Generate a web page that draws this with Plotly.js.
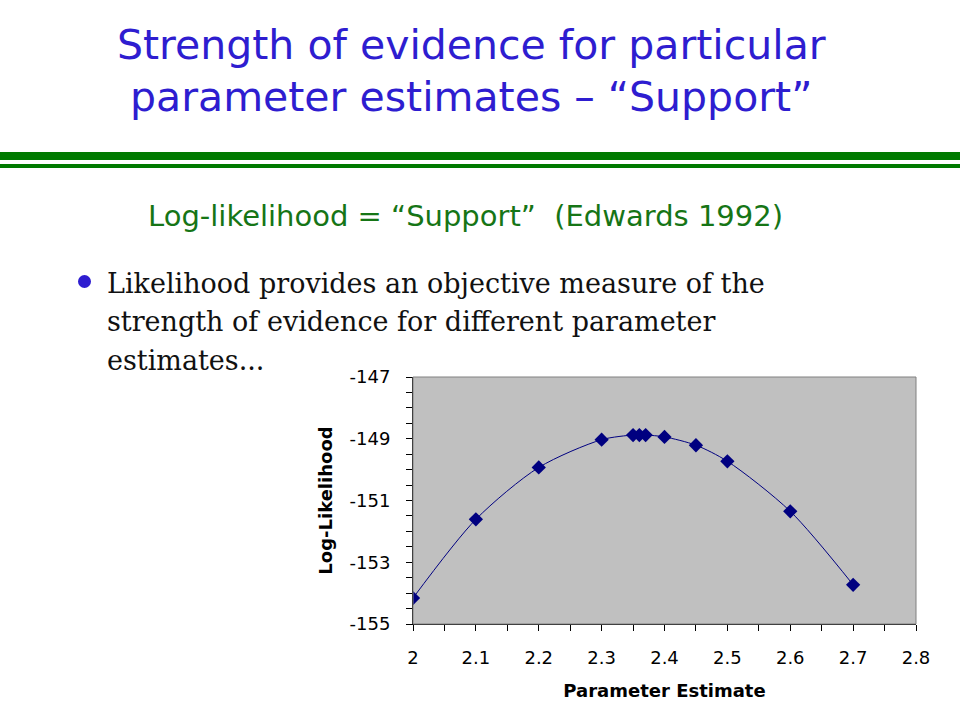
<!DOCTYPE html>
<html>
<head>
<meta charset="utf-8">
<script src="https://cdn.plot.ly/plotly-3.0.1.min.js"></script>
<style>html,body{margin:0;padding:0;background:#fff;}#chart{width:960px;height:720px;}</style>
</head>
<body>
<div id="chart"></div>
<script>
// Data
const paramEstimate = [2.0, 2.1, 2.2, 2.3, 2.35, 2.36, 2.37, 2.4, 2.45, 2.5, 2.6, 2.7];
const logLikelihood = [-154.16, -151.61, -149.93, -149.03, -148.88, -148.88, -148.88, -148.94, -149.21, -149.73, -151.35, -153.73];
const xTickVals = [2, 2.1, 2.2, 2.3, 2.4, 2.5, 2.6, 2.7, 2.8];
const xTickLabels = ["2", "2.1", "2.2", "2.3", "2.4", "2.5", "2.6", "2.7", "2.8"];
const yTickVals = [-147, -149, -151, -153, -155];
const yTickLabels = ["-147", "-149", "-151", "-153", "-155"];
const titleLines = ["Strength of evidence for particular", "parameter estimates \u2013 \u201cSupport\u201d"];
const subtitle = "Log-likelihood = \u201cSupport\u201d  (Edwards 1992)";
const bulletLines = ["Likelihood provides an objective measure of the", "strength of evidence for different parameter", "estimates..."];

const W = 960, H = 720;
const ML = 413, MR = 44, MT = 377, MB = 96;
const PW = W - ML - MR, PH = H - MT - MB;
// convert page pixels to paper coordinates (paper = plot area)
const px = v => (v - ML) / PW, py = v => (H - MB - v) / PH;

const trace = {
  x: paramEstimate, y: logLikelihood,
  type: 'scatter', mode: 'lines+markers',
  line: {color: '#000080', width: 1, shape: 'spline', smoothing: 0.8},
  marker: {symbol: 'diamond', size: 11, color: '#000080'},
  hoverinfo: 'skip'
};

const tickFont = {family: 'DejaVu Sans, sans-serif', size: 18, color: '#000'};
const axisTitleFont = {family: 'DejaVu Sans, sans-serif', size: 18, color: '#000', weight: 'bold'};
const titleFont = {family: 'DejaVu Sans, sans-serif', size: 41, color: '#2E1DD0'};

const annotations = [];
titleLines.forEach((t, i) => annotations.push({
  xref: 'paper', yref: 'paper', x: px(471), y: py(45 + i * 52), xanchor: 'center', yanchor: 'middle',
  text: t, showarrow: false, font: titleFont
}));
annotations.push({
  xref: 'paper', yref: 'paper', x: px(465), y: py(216), xanchor: 'center', yanchor: 'middle',
  text: subtitle, showarrow: false, font: {family: 'DejaVu Sans, sans-serif', size: 29, color: '#167516'}
});
bulletLines.forEach((t, i) => annotations.push({
  xref: 'paper', yref: 'paper', x: px(105), y: py(283 + i * 38.5), xanchor: 'left', yanchor: 'middle',
  text: t, showarrow: false, font: {family: 'DejaVu Serif, serif', size: 27, color: '#111'}
}));

const shapes = [
  {type: 'rect', xref: 'paper', yref: 'paper', x0: px(0), x1: px(W), y0: py(160), y1: py(152), fillcolor: '#007A00', line: {width: 0}},
  {type: 'rect', xref: 'paper', yref: 'paper', x0: px(0), x1: px(W), y0: py(168), y1: py(164), fillcolor: '#007A00', line: {width: 0}},
  {type: 'circle', xref: 'paper', yref: 'paper', x0: px(78), x1: px(91), y0: py(288), y1: py(275), fillcolor: '#2E1DD0', line: {width: 0}},
  {type: 'rect', xref: 'x domain', yref: 'y domain', x0: 0, x1: 1, y0: 0, y1: 1, line: {color: '#808080', width: 1}, layer: 'above'}
];

const layout = {
  width: W, height: H,
  margin: {l: ML, r: MR, t: MT, b: MB, pad: 0},
  paper_bgcolor: '#fff', plot_bgcolor: '#C0C0C0',
  showlegend: false,
  xaxis: {
    range: [2, 2.8], tickvals: xTickVals, ticktext: xTickLabels,
    ticks: 'outside', ticklen: 6, tickcolor: '#000', tickwidth: 1,
    minor: {dtick: 0.05, tick0: 2, ticks: 'outside', ticklen: 6, tickcolor: '#000'},
    showgrid: false, zeroline: false, showline: true, linecolor: '#000', linewidth: 1,
    tickfont: tickFont, ticklabelstandoff: 11,
    title: {text: 'Parameter Estimate', font: axisTitleFont, standoff: 17}
  },
  yaxis: {
    range: [-155, -147], tickvals: yTickVals, ticktext: yTickLabels,
    ticks: 'outside', ticklen: 6, tickcolor: '#000', tickwidth: 1,
    minor: {dtick: 0.5, tick0: -155, ticks: 'outside', ticklen: 6, tickcolor: '#000'},
    showgrid: false, zeroline: false, showline: true, linecolor: '#000', linewidth: 1,
    tickfont: tickFont, ticklabelstandoff: 12,
    title: {text: 'Log-Likelihood', font: axisTitleFont, standoff: 12}
  },
  annotations: annotations,
  shapes: shapes
};

Plotly.newPlot('chart', [trace], layout, {staticPlot: true, displayModeBar: false});
</script>
</body>
</html>
